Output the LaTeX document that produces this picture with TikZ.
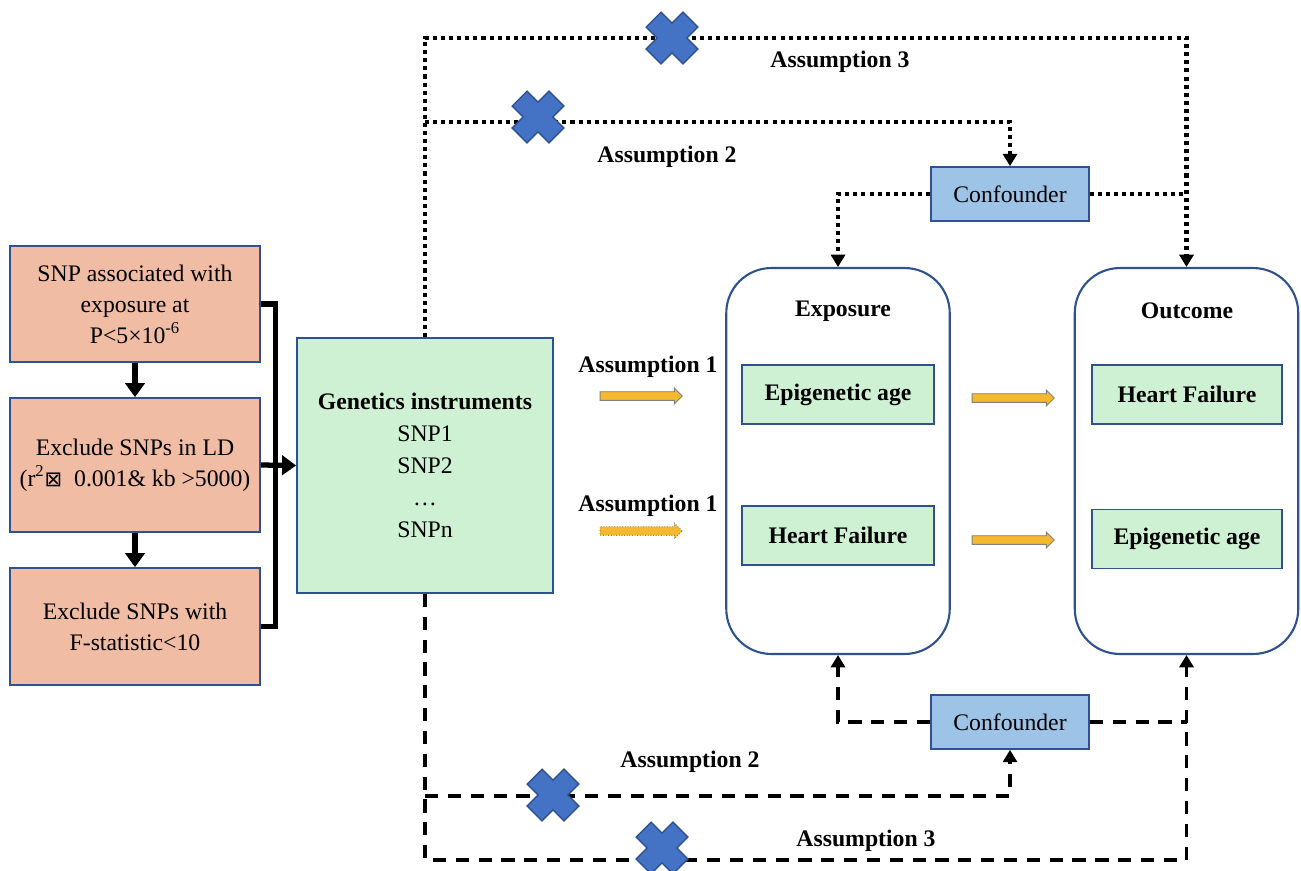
\documentclass[tikz,border=0pt]{standalone}
\usepackage{fontspec}
\setmainfont{Liberation Serif}
\newfontfamily\symfont{DejaVu Sans}
\usepackage{xcolor}
\usetikzlibrary{positioning}
\usetikzlibrary{arrows.meta,
                shapes.arrows}

\definecolor{salmon}{RGB}{240,188,163}
\definecolor{mint}{RGB}{206,240,211}
\definecolor{edgeblue}{RGB}{47,82,143}
\definecolor{skyblue}{RGB}{157,195,230}
\definecolor{crossblue}{RGB}{68,114,196}
\definecolor{amber}{RGB}{246,184,44}

\tikzset{
  nocross/.pic={
    \filldraw[fill=crossblue,draw=edgeblue,line width=0.8pt,rotate=45]
      (-10.5,-26) -- (10.5,-26) -- (10.5,-10.5) -- (26,-10.5) -- (26,10.5)
      -- (10.5,10.5) -- (10.5,26) -- (-10.5,26) -- (-10.5,10.5)
      -- (-26,10.5) -- (-26,-10.5) -- (-10.5,-10.5) -- cycle;
  }
}

\begin{document}
\begin{tikzpicture}[
      x=0.02cm, y=-0.02cm,
      font=\fontsize{13.5}{17.6}\selectfont,
      filterbox/.style={draw=edgeblue,line width=1pt,fill=salmon,minimum width=5cm,align=center,inner sep=0pt},
      ivbox/.style={draw=edgeblue,line width=1pt,fill=mint,align=center,inner sep=0pt},
      groupbox/.style={draw=edgeblue,line width=1.2pt,rounded corners=0.9cm,minimum width=4.47cm,minimum height=7.72cm},
      traitbox/.style={ivbox,minimum width=3.84cm,minimum height=1.18cm,font=\fontsize{13.5}{17.6}\selectfont\bfseries},
      confbox/.style={draw=edgeblue,line width=1pt,fill=skyblue,minimum width=3.16cm,minimum height=1.08cm},
      label/.style={font=\fontsize{13.5}{17.6}\selectfont\bfseries},
      yarrow/.style={single arrow,draw=gray,fill=amber,line width=0.5pt,minimum height=1.64cm,inner sep=2.2pt,single arrow head extend=2pt},
      flow/.style={line width=3pt,-{Triangle[length=8pt,width=11pt]}},
      dotline/.style={line width=2.3pt,dash pattern=on 2.3pt off 2.3pt},
      dashline/.style={line width=1.8pt,dash pattern=on 7.5pt off 5.5pt},
      tip/.style={-{Triangle[length=7pt,width=8pt]}}
      ]

      \useasboundingbox (0,0) rectangle (1301,870);

      % selection steps
      \node[filterbox,minimum height=2.32cm] (snp) at (135,304)
        {SNP associated with\\exposure at\\P<5×10\textsuperscript{-6}};
      \node[filterbox,minimum height=2.68cm] (ld) at (135,465)
        {Exclude SNPs in LD\\(r\textsuperscript{2}{\symfont\fontsize{12}{14}\selectfont ⊠}\ \ 0.001\& kb >5000)};
      \node[filterbox,minimum height=2.34cm] (fstat) at (135,626.5)
        {Exclude SNPs with\\F-statistic<10};

      \node[ivbox,minimum width=5.12cm,minimum height=5.1cm,font=\fontsize{13.5}{18.2}\selectfont] (instr) at (425,465.5)
        {\textbf{Genetics instruments}\\SNP1\\SNP2\\…\\SNPn};

      % exposure and outcome
      \node[groupbox] (expo) at (838,461) {};
      \node[groupbox] (outc) at (1186.5,461) {};
      \node[label] (expotitle) at (843,311) {Exposure};
      \node[label] (outctitle) at (1187,311) {Outcome};

      \node[traitbox] (expoage) at (838,394.5) {Epigenetic age};
      \node[traitbox] (expohf) at (838,535.5) {Heart Failure};
      \node[traitbox,minimum width=3.8cm] (outchf) at (1187,394.5) {Heart Failure};
      \node[traitbox,minimum width=3.8cm] (outcage) at (1187,539) {Epigenetic age};

      \node[confbox] (conftop) at (1010,194) {Confounder};
      \node[confbox] (confbot) at (1010,722) {Confounder};

      % yellow arrows
      \node[yarrow] (ivarrowa) at (639,396) {};
      \node[yarrow,densely dotted] (ivarrowb) at (639,531) {};
      \node[yarrow] (mrarrowa) at (1011,398) {};
      \node[yarrow] (mrarrowb) at (1011,540) {};

      \node[label] (assonea) at (648,367) {Assumption 1};
      \node[label] (assoneb) at (648,506) {Assumption 1};

      % left flow
      \path (snp) edge[flow] (ld)
      (ld) edge[flow] (fstat);
      \draw[line width=3pt] (snp.east) -- ++(15,0) |- (fstat.east);
      \draw[flow] (ld.east) -- (instr.west);

      % dotted paths
      \coordinate (dotthree) at (0,38);
      \coordinate (dottwo) at (0,122);
      \draw[dotline,tip] (instr.north) -- (instr.north |- dotthree) -| (outc.north);
      \draw[dotline,tip] (instr.north |- dottwo) -| (conftop.north);
      \draw[dotline,tip] (conftop.west) -| (expo.north);
      \draw[dotline] (conftop.east) -- (conftop.east -| outc.north);

      % dashed paths
      \coordinate (dashthree) at (0,860);
      \coordinate (dashtwo) at (0,796);
      \draw[dashline,tip] (instr.south) -- (instr.south |- dashthree) -| (outc.south);
      \draw[dashline,tip] (instr.south |- dashtwo) -| (confbot.south);
      \draw[dashline,tip] (confbot.west) -| (expo.south);
      \draw[dashline] (confbot.east) -- (confbot.east -| outc.south);

      \pic (crossa) at (672,38) {nocross};
      \pic (crossb) at (538,117) {nocross};
      \pic (crossc) at (553,795) {nocross};
      \pic (crossd) at (662,848) {nocross};

      \node[label] (asstwotop) at (667,157) {Assumption 2};
      \node[label] (assthreetop) at (840,62) {Assumption 3};
      \node[label] (asstwobot) at (690,762) {Assumption 2};
      \node[label] (assthreebot) at (866,841) {Assumption 3};
    \end{tikzpicture}
\end{document}
